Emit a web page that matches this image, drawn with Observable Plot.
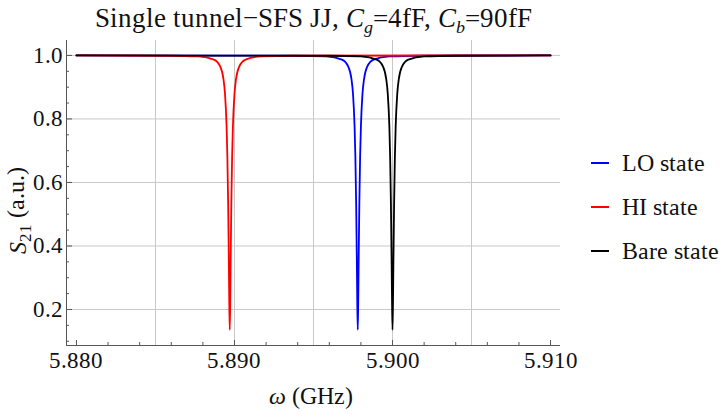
<!DOCTYPE html>
<html><head><meta charset="utf-8">
<script src="https://cdn.jsdelivr.net/npm/d3@7"></script>
<script src="https://cdn.jsdelivr.net/npm/@observablehq/plot@0.6"></script>
<style>
@font-face{font-family:"ChartSerif";src:local("Liberation Serif"),local("LiberationSerif"),local("LiberationSerif-Regular");font-style:normal;font-weight:400;}
@font-face{font-family:"ChartSerif";src:local("Liberation Serif Italic"),local("LiberationSerif-Italic");font-style:italic;font-weight:400;}
body{margin:0;background:#fff;}
#wrap, #wrap *{font-family:"ChartSerif","Liberation Serif","DejaVu Serif",serif;}
#wrap{position:relative;width:724px;height:414px;color:#111;overflow:hidden;}
#title{height:36px;box-sizing:border-box;padding-left:66px;width:560px;text-align:center;font-size:26.5px;line-height:36px;white-space:nowrap;}
#title sub{font-size:18px;line-height:0;}
#legend{position:absolute;left:591px;top:141px;font-size:24px;}
.row{display:flex;align-items:center;height:44px;}
.sw{width:18px;height:2px;margin-right:13px;}
svg{display:block;}
svg text{font-family:"ChartSerif","Liberation Serif","DejaVu Serif",serif !important;}
</style></head>
<body>
<div id="wrap">
  <div id="title">Single tunnel−SFS JJ, <i>C</i><sub><i>g</i></sub>=4fF, <i>C</i><sub><i>b</i></sub>=90fF</div>
  <div id="chart"></div>
  <div id="legend"></div>
</div>
<script>
const states = ["LO state", "HI state", "Bare state"];
const colors = ["#0000ff", "#ff0000", "#000000"];

const loFreq = [5.880, 5.8938, 5.8958, 5.8968, 5.8972, 5.8974, 5.8975, 5.8976, 5.89765, 5.8977, 5.89774, 5.89777, 5.8978,
  5.89783, 5.89786, 5.8979, 5.89795, 5.8980, 5.8981, 5.8982, 5.8984, 5.8988, 5.8998, 5.9018, 5.910];
const loS21 = [1.0, 0.999, 0.997, 0.987, 0.965, 0.926, 0.879, 0.776, 0.680, 0.531, 0.365, 0.224, 0.136,
  0.224, 0.365, 0.531, 0.680, 0.776, 0.879, 0.926, 0.965, 0.987, 0.997, 0.999, 1.0];

const hiFreq = [5.880, 5.8857, 5.8877, 5.8887, 5.8891, 5.8893, 5.8894, 5.8895, 5.88955, 5.8896, 5.88964, 5.88967, 5.8897,
  5.88973, 5.88976, 5.8898, 5.88985, 5.8899, 5.8900, 5.8901, 5.8903, 5.8907, 5.8917, 5.8937, 5.910];
const hiS21 = [1.0, 0.999, 0.997, 0.987, 0.965, 0.926, 0.879, 0.776, 0.680, 0.531, 0.365, 0.224, 0.136,
  0.224, 0.365, 0.531, 0.680, 0.776, 0.879, 0.926, 0.965, 0.987, 0.997, 0.999, 1.0];

const bareFreq = [5.880, 5.8960, 5.8980, 5.8990, 5.8994, 5.8996, 5.8997, 5.8998, 5.89985, 5.8999, 5.89994, 5.89997, 5.9000,
  5.90003, 5.90006, 5.9001, 5.90015, 5.9002, 5.9003, 5.9004, 5.9006, 5.9010, 5.9020, 5.9040, 5.910];
const bareS21 = [1.0, 0.999, 0.997, 0.987, 0.965, 0.926, 0.879, 0.776, 0.680, 0.531, 0.365, 0.224, 0.136,
  0.224, 0.365, 0.531, 0.680, 0.776, 0.879, 0.926, 0.965, 0.987, 0.997, 0.999, 1.0];

const xTicks = [5.880, 5.890, 5.900, 5.910];
const xMinor = [5.882, 5.884, 5.886, 5.888, 5.892, 5.894, 5.896, 5.898, 5.902, 5.904, 5.906, 5.908];
const xGrid = [5.885, 5.890, 5.895, 5.900, 5.905];
const yTicks = [0.2, 0.4, 0.6, 0.8, 1.0];
const yMinor = [0.10, 0.15, 0.25, 0.30, 0.35, 0.45, 0.50, 0.55, 0.65, 0.70, 0.75, 0.85, 0.90, 0.95];
const yGrid = [0.2, 0.4, 0.6, 0.8, 1.0];
const xDomain = [5.87937, 5.91063];
const yDomain = [0.0866, 1.047];

const series = [[loFreq, loS21], [hiFreq, hiS21], [bareFreq, bareS21]];
const rows = series.flatMap(([fs, ss], i) => fs.map((f, j) => ({state: states[i], f, s: ss[j]})));

const serif = "ChartSerif, 'Liberation Serif', 'DejaVu Serif', serif";
const axisColor = "#555";
const blank = () => "";
const svg = Plot.plot({
  width: 724, height: 378,
  marginLeft: 66, marginRight: 164, marginTop: 4, marginBottom: 69,
  style: {fontFamily: serif, fontSize: "23px", color: "#111", background: "#fff"},
  x: {domain: xDomain, label: null},
  y: {domain: yDomain, label: null},
  color: {domain: states, range: colors},
  marks: [
    Plot.gridX(xGrid, {stroke: "#c8c8c8", strokeOpacity: 1, strokeWidth: 1}),
    Plot.gridY(yGrid, {stroke: "#c8c8c8", strokeOpacity: 1, strokeWidth: 1}),
    Plot.line(rows, {x: "f", y: "s", z: "state", stroke: "state", curve: "monotone-x", strokeWidth: 1.8}),
    Plot.ruleX([xDomain[0]], {stroke: axisColor, strokeWidth: 1}),
    Plot.ruleY([yDomain[0]], {stroke: axisColor, strokeWidth: 1}),
    Plot.axisX(xTicks, {tickSize: 0, tickPadding: 6, tickFormat: d3.format(".3f"), label: null, fontFamily: serif}),
    Plot.axisX(xTicks, {tickSize: 5, dy: -5, tickFormat: blank, label: null, stroke: axisColor}),
    Plot.axisX(xMinor, {tickSize: 3, dy: -3, tickFormat: blank, label: null, stroke: axisColor}),
    Plot.axisY(yTicks, {tickSize: 0, tickPadding: 4, tickFormat: d3.format(".1f"), label: null, fontFamily: serif}),
    Plot.axisY(yTicks, {tickSize: 6, dx: 6, tickFormat: blank, label: null, stroke: axisColor}),
    Plot.axisY(yMinor, {tickSize: 3, dx: 3, tickFormat: blank, label: null, stroke: axisColor})
  ]
});

const s = d3.select(svg);
const xl = s.append("text").attr("x", 311).attr("y", 368).attr("text-anchor", "middle")
  .attr("fill", "#111").attr("font-size", 24).attr("font-family", serif);
xl.append("tspan").attr("font-style", "italic").text("ω");
xl.append("tspan").text(" (GHz)");

const yl = s.append("text").attr("transform", "translate(26,174) rotate(-90)").attr("text-anchor", "middle")
  .attr("fill", "#111").attr("font-size", 24).attr("font-family", serif);
yl.append("tspan").attr("font-style", "italic").text("S");
yl.append("tspan").attr("font-size", 17).attr("dy", "0.3em").text("21");
yl.append("tspan").attr("dy", "-0.3em").text(" (a.u.)");

document.getElementById("chart").appendChild(svg);

const legend = d3.select("#legend");
states.forEach((st, i) => {
  const r = legend.append("div").attr("class", "row");
  r.append("div").attr("class", "sw").style("background", colors[i]);
  r.append("span").text(st);
});
</script>
</body></html>
